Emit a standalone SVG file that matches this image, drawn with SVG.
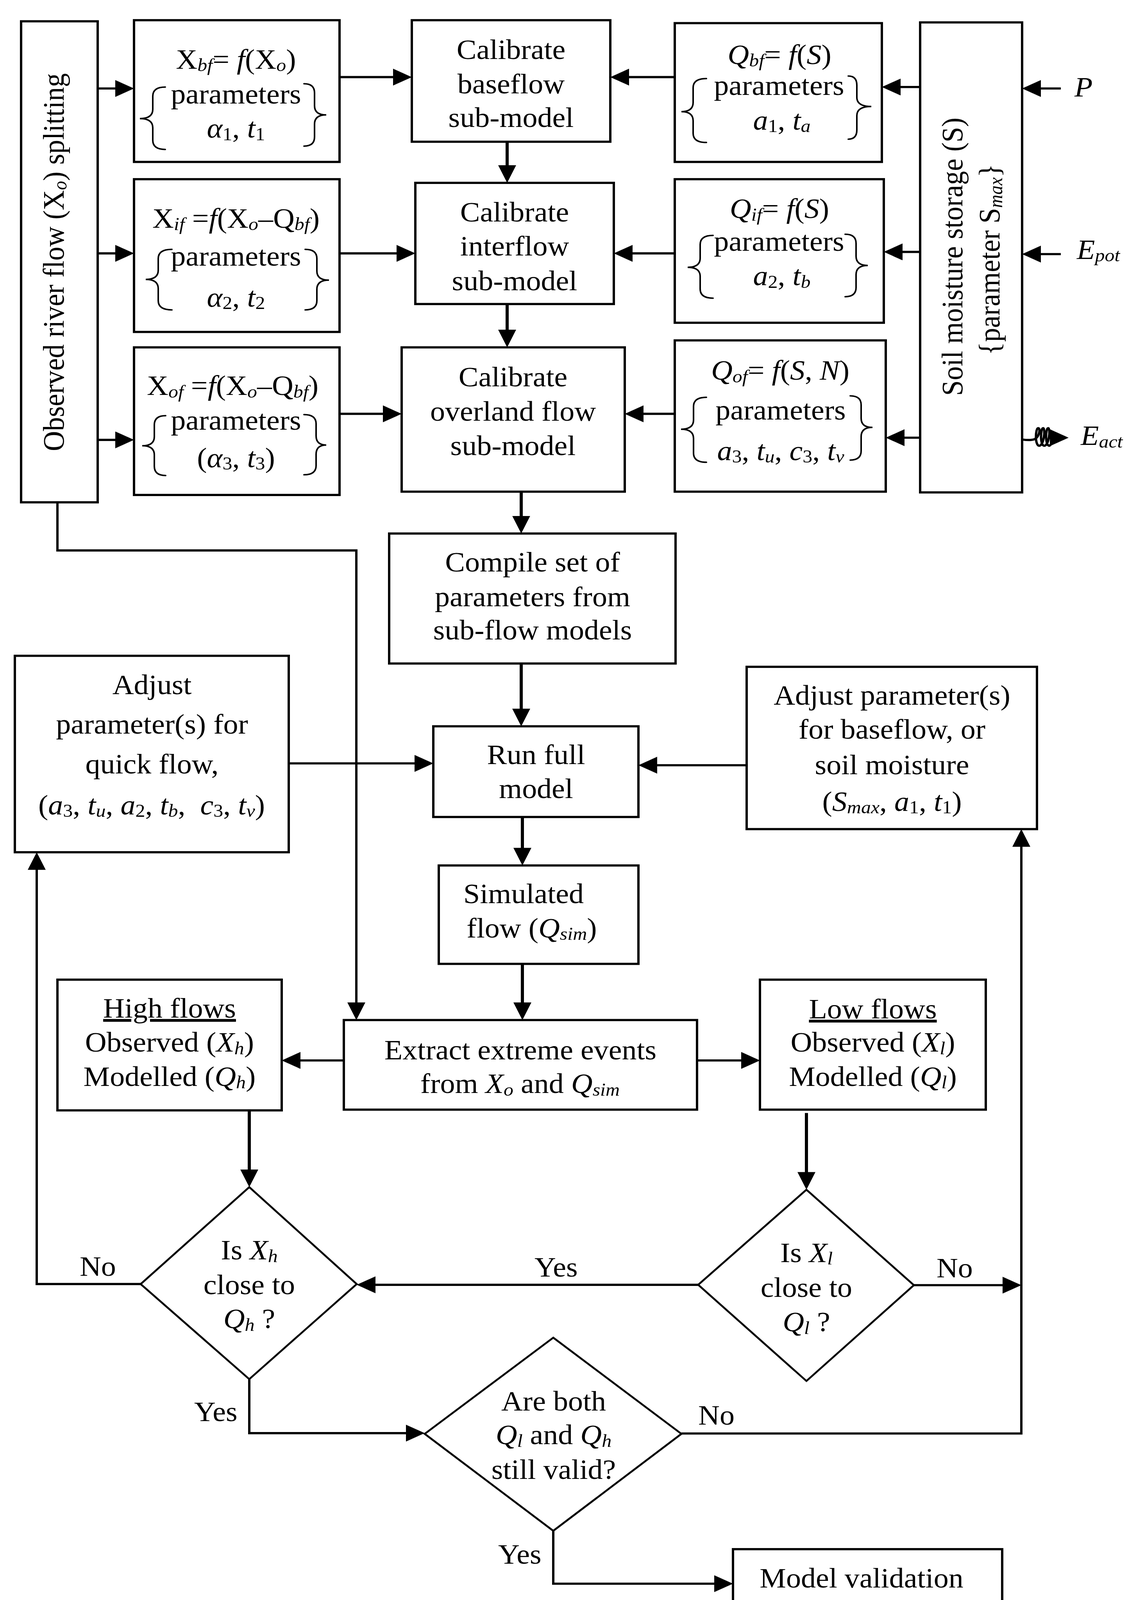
<svg xmlns="http://www.w3.org/2000/svg" width="2887" height="4411" viewBox="0 0 2887 4411">
<style>
.box{fill:#fff;stroke:#000;stroke-width:6}
.dia{fill:#fff;stroke:#000;stroke-width:5}
.brace{fill:none;stroke:#000;stroke-width:4;stroke-linecap:round}
.conn{fill:none;stroke:#000;stroke-width:6}
.thick{stroke-width:8}
.arr{marker-end:url(#ah)}
text{font-family:"Liberation Serif","Times New Roman",serif;font-size:76px;fill:#000}
.c{text-anchor:middle}
.i{font-style:italic}
.sb{font-size:50px}
</style>
<defs>
<marker id="ah" markerUnits="userSpaceOnUse" viewBox="0 0 48 46" refX="28" refY="23" markerWidth="48" markerHeight="46" orient="auto"><path d="M0,0 L48,23 L0,46 Z" fill="#000"/></marker>
</defs>
<rect width="2887" height="4411" fill="#fff"/>
<g id="diagram" transform="scale(1,0.94)">

<g id="connectors">
<path class="conn arr" d="M250,241 H323"/>
<path class="conn arr" d="M250,690 H323"/>
<path class="conn arr" d="M250,1198 H323"/>
<path class="conn arr" d="M869,210 H1034"/>
<path class="conn arr" d="M869,690 H1043"/>
<path class="conn arr" d="M869,1127 H1008"/>
<path class="conn arr" d="M1727,210 H1582"/>
<path class="conn arr" d="M1727,690 H1591"/>
<path class="conn arr" d="M1727,1127 H1619"/>
<path class="conn arr" d="M2355,237 H2277"/>
<path class="conn arr" d="M2355,686 H2282"/>
<path class="conn arr" d="M2355,1192 H2287"/>
<path class="conn arr" d="M2715,241 H2636"/>
<path class="conn arr" d="M2715,692 H2636"/>
<path class="conn arr" stroke-width="5" d="M2617,1197 C2630,1199 2640,1199 2648,1196 C2660,1190 2664,1166 2657,1166 C2650,1166 2648,1214 2660,1214 C2672,1212 2676,1168 2670,1166 C2663,1164 2661,1214 2673,1214 C2685,1212 2689,1168 2683,1166 C2676,1164 2674,1214 2686,1214 C2692,1212 2692,1192 2700,1192 L2715,1192"/>
<path class="conn thick arr" d="M1298,386 V478"/>
<path class="conn thick arr" d="M1298,828 V926"/>
<path class="conn thick arr" d="M1334,1339 V1433"/>
<path class="conn thick arr" d="M1334,1807 V1958"/>
<path class="conn thick arr" d="M1337,2225 V2337"/>
<path class="conn thick arr" d="M1337,2625 V2758"/>
<path class="conn arr" d="M147,1368 V1499 H912 V2758"/>
<path class="conn arr" d="M739,2079 H1089"/>
<path class="conn arr" d="M1911,2084 H1654"/>
<path class="conn arr" d="M880,2888 H741"/>
<path class="conn arr" d="M1784,2888 H1925"/>
<path class="conn thick arr" d="M638,3024 V3213"/>
<path class="conn thick arr" d="M2064,3031 V3220"/>
<path class="conn arr" d="M360,3497 H94 V2341"/>
<path class="conn arr" d="M1787,3499 H933"/>
<path class="conn arr" d="M2339,3500 H2594"/>
<path class="conn arr" d="M638,3756 V3903 H1067"/>
<path class="conn arr" d="M1744,3904 H2614 V2278"/>
<path class="conn arr" d="M1416,4169 V4313 H1856"/>
</g>

<g id="n-observed">
<rect class="box" x="54" y="58" width="196" height="1310"/>
<text class="c" font-size="77" transform="translate(163,714) rotate(-90)">Observed river flow (X<tspan class="i sb" dy="7">o</tspan><tspan dy="-7">) splitting</tspan></text>
</g>

<g id="n-xbf">
<rect class="box" x="343" y="55" width="526" height="386"/>
<text class="c" x="604" y="187">X<tspan class="i sb" dy="7">bf</tspan><tspan dy="-7">= </tspan><tspan class="i">f</tspan>(X<tspan class="i sb" dy="7">o</tspan><tspan dy="-7">)</tspan></text>
<text class="c" x="604" y="282">parameters</text>
<text class="c" x="604" y="375"><tspan class="i">α</tspan><tspan class="sb" dy="7">1</tspan><tspan dy="-7">, </tspan><tspan class="i">t</tspan><tspan class="sb" dy="7">1</tspan></text>
<path class="brace" d="M423,237 Q391,237 391,262 L391,298 Q391,323 358,323 Q391,323 391,348 L391,382 Q391,407 423,407"/>
<path class="brace" d="M778,228 Q805,228 805,253 L805,288 Q805,313 835,313 Q805,313 805,338 L805,373 Q805,398 778,398"/>
</g>

<g id="n-xif">
<rect class="box" x="343" y="488" width="526" height="416"/>
<text class="c" x="604" y="620">X<tspan class="i sb" dy="7">if</tspan><tspan dy="-7"> =</tspan><tspan class="i">f</tspan>(X<tspan class="i sb" dy="7">o</tspan><tspan dy="-7">–Q</tspan><tspan class="i sb" dy="7">bf</tspan><tspan dy="-7">)</tspan></text>
<text class="c" x="604" y="723">parameters</text>
<text class="c" x="604" y="835"><tspan class="i">α</tspan><tspan class="sb" dy="7">2</tspan><tspan dy="-7">, </tspan><tspan class="i">t</tspan><tspan class="sb" dy="7">2</tspan></text>
<path class="brace" d="M440,679 Q405,679 405,704 L405,736 Q405,761 373,761 Q405,761 405,786 L405,819 Q405,844 440,844"/>
<path class="brace" d="M781,679 Q811,679 811,704 L811,738 Q811,763 842,763 Q811,763 811,788 L811,819 Q811,844 781,844"/>
</g>

<g id="n-xof">
<rect class="box" x="343" y="946" width="526" height="402"/>
<text x="376" y="1076">X<tspan class="i sb" dy="7">of</tspan><tspan dy="-7"> =</tspan><tspan class="i">f</tspan>(X<tspan class="i sb" dy="7">o</tspan><tspan dy="-7">–Q</tspan><tspan class="i sb" dy="7">bf</tspan><tspan dy="-7">)</tspan></text>
<text class="c" x="604" y="1170">parameters</text>
<text class="c" x="604" y="1272">(<tspan class="i">α</tspan><tspan class="sb" dy="7">3</tspan><tspan dy="-7">, </tspan><tspan class="i">t</tspan><tspan class="sb" dy="7">3</tspan><tspan dy="-7">)</tspan></text>
<path class="brace" d="M424,1132 Q395,1132 395,1157 L395,1189 Q395,1214 364,1214 Q395,1214 395,1239 L395,1270 Q395,1295 424,1295"/>
<path class="brace" d="M778,1129 Q809,1129 809,1154 L809,1187 Q809,1212 835,1212 Q809,1212 809,1237 L809,1268 Q809,1293 778,1293"/>
</g>

<g id="n-cal-base">
<rect class="box" x="1054" y="55" width="508" height="331"/>
<text class="c" x="1308" y="161">Calibrate</text>
<text class="c" x="1308" y="254">baseflow</text>
<text class="c" x="1308" y="346">sub-model</text>
</g>

<g id="n-cal-inter">
<rect class="box" x="1063" y="498" width="508" height="330"/>
<text class="c" x="1317" y="603">Calibrate</text>
<text class="c" x="1317" y="696">interflow</text>
<text class="c" x="1317" y="790">sub-model</text>
</g>

<g id="n-cal-over">
<rect class="box" x="1028" y="946" width="571" height="393"/>
<text class="c" x="1313" y="1052">Calibrate</text>
<text class="c" x="1313" y="1146">overland flow</text>
<text class="c" x="1313" y="1239">sub-model</text>
</g>

<g id="n-qbf">
<rect class="box" x="1727" y="63" width="530" height="378"/>
<text class="c" x="1995" y="174"><tspan class="i">Q</tspan><tspan class="i sb" dy="7">bf</tspan><tspan dy="-7">= </tspan><tspan class="i">f</tspan>(<tspan class="i">S</tspan>)</text>
<text class="c" x="1994" y="259">parameters</text>
<text class="c" x="2001" y="353"><tspan class="i">a</tspan><tspan class="sb" dy="7">1</tspan><tspan dy="-7">, </tspan><tspan class="i">t</tspan><tspan class="i sb" dy="7">a</tspan></text>
<path class="brace" d="M1808,214 Q1774,214 1774,239 L1774,279 Q1774,304 1744,304 Q1774,304 1774,329 L1774,363 Q1774,388 1808,388"/>
<path class="brace" d="M2171,207 Q2193,207 2193,232 L2193,265 Q2193,290 2230,290 Q2193,290 2193,315 L2193,354 Q2193,379 2171,379"/>
</g>

<g id="n-qif">
<rect class="box" x="1727" y="488" width="535" height="391"/>
<text class="c" x="1995" y="594"><tspan class="i">Q</tspan><tspan class="i sb" dy="7">if</tspan><tspan dy="-7">= </tspan><tspan class="i">f</tspan>(<tspan class="i">S</tspan>)</text>
<text class="c" x="1994" y="683">parameters</text>
<text class="c" x="2001" y="777"><tspan class="i">a</tspan><tspan class="sb" dy="7">2</tspan><tspan dy="-7">, </tspan><tspan class="i">t</tspan><tspan class="i sb" dy="7">b</tspan></text>
<path class="brace" d="M1825,641 Q1792,641 1792,666 L1792,703 Q1792,728 1760,728 Q1792,728 1792,753 L1792,787 Q1792,812 1825,812"/>
<path class="brace" d="M2163,638 Q2191,638 2191,663 L2191,698 Q2191,723 2221,723 Q2191,723 2191,748 L2191,783 Q2191,808 2163,808"/>
</g>

<g id="n-qof">
<rect class="box" x="1727" y="927" width="540" height="412"/>
<text class="c" x="1997" y="1034"><tspan class="i">Q</tspan><tspan class="i sb" dy="7">of</tspan><tspan dy="-7">= </tspan><tspan class="i">f</tspan>(<tspan class="i">S</tspan>, <tspan class="i">N</tspan>)</text>
<text class="c" x="1998" y="1143">parameters</text>
<text class="c" x="1998" y="1253"><tspan class="i">a</tspan><tspan class="sb" dy="7">3</tspan><tspan dy="-7">, </tspan><tspan class="i">t</tspan><tspan class="i sb" dy="7">u</tspan><tspan dy="-7">, </tspan><tspan class="i">c</tspan><tspan class="sb" dy="7">3</tspan><tspan dy="-7">, </tspan><tspan class="i">t</tspan><tspan class="i sb" dy="7">v</tspan></text>
<path class="brace" d="M1808,1082 Q1775,1082 1775,1107 L1775,1144 Q1775,1169 1743,1169 Q1775,1169 1775,1194 L1775,1234 Q1775,1259 1808,1259"/>
<path class="brace" d="M2176,1078 Q2204,1078 2204,1103 L2204,1139 Q2204,1164 2233,1164 Q2204,1164 2204,1189 L2204,1228 Q2204,1253 2176,1253"/>
</g>

<g id="n-soil">
<rect class="box" x="2355" y="61" width="261" height="1280"/>
<text class="c" font-size="75" transform="translate(2463,699) rotate(-90)">Soil moisture storage (S)</text>
<text class="c" font-size="72" transform="translate(2558,707) rotate(-90)">{parameter S<tspan class="i sb" font-size="46" dy="7">max</tspan><tspan dy="-7">}</tspan></text>
</g>

<g id="n-inputs">
<text class="i" x="2750" y="263">P</text>
<text x="2756" y="705"><tspan class="i">E</tspan><tspan class="i sb" dy="7">pot</tspan></text>
<text x="2766" y="1212"><tspan class="i">E</tspan><tspan class="i sb" dy="7">act</tspan></text>
</g>

<g id="n-compile">
<rect class="box" x="996" y="1453" width="733" height="354"/>
<text class="c" x="1363" y="1556">Compile set of</text>
<text class="c" x="1363" y="1651">parameters from</text>
<text class="c" x="1363" y="1742">sub-flow models</text>
</g>

<g id="n-run">
<rect class="box" x="1109" y="1978" width="525" height="247"/>
<text class="c" x="1372" y="2081">Run full</text>
<text class="c" x="1372" y="2173">model</text>
</g>

<g id="n-quick">
<rect class="box" x="38" y="1786" width="701" height="535"/>
<text class="c" x="389" y="1890">Adjust</text>
<text class="c" x="389" y="1998">parameter(s) for</text>
<text class="c" x="389" y="2106">quick flow,</text>
<text class="c" x="388" y="2218" font-size="70" xml:space="preserve">(<tspan class="i">a</tspan><tspan class="sb" font-size="46" dy="7">3</tspan><tspan dy="-7">, </tspan><tspan class="i">t</tspan><tspan class="i sb" font-size="46" dy="7">u</tspan><tspan dy="-7">, </tspan><tspan class="i">a</tspan><tspan class="sb" font-size="46" dy="7">2</tspan><tspan dy="-7">, </tspan><tspan class="i">t</tspan><tspan class="i sb" font-size="46" dy="7">b</tspan><tspan dy="-7">,  </tspan><tspan class="i">c</tspan><tspan class="sb" font-size="46" dy="7">3</tspan><tspan dy="-7">, </tspan><tspan class="i">t</tspan><tspan class="i sb" font-size="46" dy="7">v</tspan><tspan dy="-7">)</tspan></text>
</g>

<g id="n-adjbase">
<rect class="box" x="1911" y="1816" width="743" height="442"/>
<text class="c" x="2283" y="1919">Adjust parameter(s)</text>
<text class="c" x="2283" y="2012">for baseflow, or</text>
<text class="c" x="2283" y="2108">soil moisture</text>
<text class="c" x="2283" y="2208">(<tspan class="i">S</tspan><tspan class="i sb" dy="7">max</tspan><tspan dy="-7">, </tspan><tspan class="i">a</tspan><tspan class="sb" dy="7">1</tspan><tspan dy="-7">, </tspan><tspan class="i">t</tspan><tspan class="sb" dy="7">1</tspan><tspan dy="-7">)</tspan></text>
</g>

<g id="n-sim">
<rect class="box" x="1123" y="2357" width="511" height="268"/>
<text class="c" x="1340" y="2460">Simulated</text>
<text class="c" x="1361" y="2553">flow (<tspan class="i">Q</tspan><tspan class="i sb" dy="7">sim</tspan><tspan dy="-7">)</tspan></text>
</g>

<g id="n-extract">
<rect class="box" x="880" y="2778" width="904" height="244"/>
<text class="c" x="1332" y="2885">Extract extreme events</text>
<text class="c" x="1331" y="2977">from <tspan class="i">X</tspan><tspan class="i sb" dy="7">o</tspan><tspan dy="-7"> and </tspan><tspan class="i">Q</tspan><tspan class="i sb" dy="7">sim</tspan></text>
</g>

<g id="n-high">
<rect class="box" x="147" y="2668" width="574" height="356"/>
<text class="c" x="434" y="2771" text-decoration="underline">High flows</text>
<text class="c" x="434" y="2864">Observed (<tspan class="i">X</tspan><tspan class="i sb" dy="7">h</tspan><tspan dy="-7">)</tspan></text>
<text class="c" x="434" y="2957">Modelled (<tspan class="i">Q</tspan><tspan class="i sb" dy="7">h</tspan><tspan dy="-7">)</tspan></text>
</g>

<g id="n-low">
<rect class="box" x="1945" y="2668" width="578" height="354"/>
<text class="c" x="2234" y="2773" text-decoration="underline">Low flows</text>
<text class="c" x="2234" y="2864">Observed (<tspan class="i">X</tspan><tspan class="i sb" dy="7">l</tspan><tspan dy="-7">)</tspan></text>
<text class="c" x="2234" y="2957">Modelled (<tspan class="i">Q</tspan><tspan class="i sb" dy="7">l</tspan><tspan dy="-7">)</tspan></text>
</g>

<g id="n-dec-high">
<polygon class="dia" points="638,3233 913,3497 638,3756 360,3497"/>
<text class="c" x="638" y="3430">Is <tspan class="i">X</tspan><tspan class="i sb" dy="7">h</tspan></text>
<text class="c" x="638" y="3525">close to</text>
<text class="c" x="638" y="3617"><tspan class="i">Q</tspan><tspan class="i sb" dy="7">h</tspan><tspan dy="-7"> ?</tspan></text>
</g>

<g id="n-dec-low">
<polygon class="dia" points="2064,3240 2339,3500 2064,3761 1787,3499"/>
<text class="c" x="2064" y="3437">Is <tspan class="i">X</tspan><tspan class="i sb" dy="7">l</tspan></text>
<text class="c" x="2064" y="3532">close to</text>
<text class="c" x="2064" y="3626"><tspan class="i">Q</tspan><tspan class="i sb" dy="7">l</tspan><tspan dy="-7"> ?</tspan></text>
</g>

<g id="n-dec-both">
<polygon class="dia" points="1416,3643 1744,3905 1416,4169 1087,3905"/>
<text class="c" x="1417" y="3841">Are both</text>
<text class="c" x="1417" y="3933"><tspan class="i">Q</tspan><tspan class="i sb" dy="7">l</tspan><tspan dy="-7"> and </tspan><tspan class="i">Q</tspan><tspan class="i sb" dy="7">h</tspan></text>
<text class="c" x="1417" y="4028">still valid?</text>
</g>

<g id="n-validation">
<rect class="box" x="1876" y="4219" width="689" height="152"/>
<text class="c" x="2205" y="4323">Model validation</text>
</g>

<g id="labels">
<text x="204" y="3475">No</text>
<text x="1368" y="3477">Yes</text>
<text x="2397" y="3479">No</text>
<text x="497" y="3870">Yes</text>
<text x="1787" y="3880">No</text>
<text x="1275" y="4259">Yes</text>
</g>
</g>
</svg>
